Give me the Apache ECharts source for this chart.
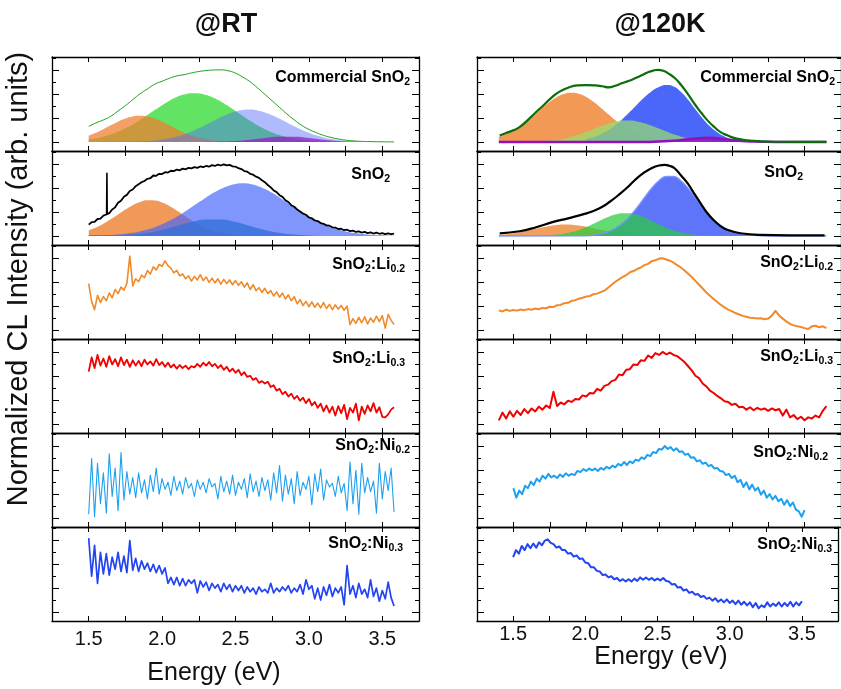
<!DOCTYPE html>
<html>
<head>
<meta charset="UTF-8">
<title>CL spectra @RT / @120K</title>
<script src="https://cdn.jsdelivr.net/npm/echarts@6/dist/echarts.min.js"></script>
</head>
<body style="margin:0;background:#fff">
<div id="main" style="width:841px;height:689px;"></div>
<script>
// ---- energy grids (eV) ----
var eRT = [1.50,1.52,1.54,1.56,1.58,1.60,1.62,1.64,1.66,1.68,
  1.70,1.72,1.74,1.76,1.78,1.80,1.82,1.84,1.86,1.88,
  1.90,1.92,1.94,1.96,1.98,2.00,2.02,2.04,2.06,2.08,
  2.10,2.12,2.14,2.16,2.18,2.20,2.22,2.24,2.26,2.28,
  2.30,2.32,2.34,2.36,2.38,2.40,2.42,2.44,2.46,2.48,
  2.50,2.52,2.54,2.56,2.58,2.60,2.62,2.64,2.66,2.68,
  2.70,2.72,2.74,2.76,2.78,2.80,2.82,2.84,2.86,2.88,
  2.90,2.92,2.94,2.96,2.98,3.00,3.02,3.04,3.06,3.08,
  3.10,3.12,3.14,3.16,3.18,3.20,3.22,3.24,3.26,3.28,
  3.30,3.32,3.34,3.36,3.38,3.40,3.42,3.44,3.46,3.48,
  3.50,3.52,3.54,3.56,3.58];
var eLi = [1.400,1.425,1.450,1.475,1.500,1.525,1.550,1.575,1.600,1.625,
  1.650,1.675,1.700,1.725,1.750,1.775,1.800,1.825,1.850,1.875,
  1.900,1.925,1.950,1.975,2.000,2.025,2.050,2.075,2.100,2.125,
  2.150,2.175,2.200,2.225,2.250,2.275,2.300,2.325,2.350,2.375,
  2.400,2.425,2.450,2.475,2.500,2.525,2.550,2.575,2.600,2.625,
  2.650,2.675,2.700,2.725,2.750,2.775,2.800,2.825,2.850,2.875,
  2.900,2.925,2.950,2.975,3.000,3.025,3.050,3.075,3.100,3.125,
  3.150,3.175,3.200,3.225,3.250,3.275,3.300,3.325,3.350,3.375,
  3.400,3.425,3.450,3.475,3.500,3.525,3.550,3.575,3.600,3.625,
  3.650];
var eNi = [1.50,1.52,1.54,1.56,1.58,1.60,1.62,1.64,1.66,1.68,
  1.70,1.72,1.74,1.76,1.78,1.80,1.82,1.84,1.86,1.88,
  1.90,1.92,1.94,1.96,1.98,2.00,2.02,2.04,2.06,2.08,
  2.10,2.12,2.14,2.16,2.18,2.20,2.22,2.24,2.26,2.28,
  2.30,2.32,2.34,2.36,2.38,2.40,2.42,2.44,2.46,2.48,
  2.50,2.52,2.54,2.56,2.58,2.60,2.62,2.64,2.66,2.68,
  2.70,2.72,2.74,2.76,2.78,2.80,2.82,2.84,2.86,2.88,
  2.90,2.92,2.94,2.96,2.98,3.00,3.02,3.04,3.06,3.08,
  3.10,3.12,3.14,3.16,3.18,3.20,3.22,3.24,3.26,3.28,
  3.30,3.32,3.34,3.36,3.38,3.40,3.42,3.44,3.46,3.48,
  3.50];

// ---- @RT measured spectra ----
var rtSnO2 = [0.95,1.15,1.18,1.42,1.45,1.70,1.80,1.92,2.22,2.40,
  2.78,2.95,3.30,3.45,3.78,3.90,4.18,4.35,4.52,4.62,
  4.80,4.85,5.08,5.05,5.22,5.20,5.36,5.33,5.48,5.45,
  5.58,5.52,5.66,5.60,5.72,5.68,5.78,5.72,5.84,5.78,
  5.88,5.82,5.95,5.88,6.00,5.92,6.02,5.93,5.97,5.85,
  5.82,5.70,5.62,5.45,5.40,5.22,5.15,4.98,4.88,4.68,
  4.52,4.28,4.08,3.82,3.68,3.42,3.28,3.00,2.85,2.58,
  2.45,2.22,2.06,1.88,1.78,1.55,1.48,1.30,1.25,1.08,
  1.02,0.88,0.86,0.72,0.70,0.58,0.60,0.48,0.52,0.40,
  0.45,0.33,0.38,0.28,0.34,0.24,0.30,0.20,0.27,0.18,
  0.24,0.15,0.22,0.14,0.20];
var rtSnO2Spike = [[1.622,1.80],[1.624,5.27],[1.626,1.85]];
var rtLi2 = [3.90,2.40,1.70,2.90,2.30,2.80,2.45,3.10,2.70,3.40,
  3.05,3.60,3.35,3.90,6.20,3.70,4.30,4.05,4.60,4.40,
  5.00,4.70,5.30,5.05,5.50,5.35,5.80,5.40,5.20,4.80,
  5.00,4.55,4.70,4.30,4.55,4.10,4.50,4.20,4.65,4.15,
  4.45,4.00,4.35,3.95,4.30,3.85,4.25,3.90,4.20,3.80,
  4.15,3.75,4.05,3.60,3.95,3.40,3.80,3.30,3.55,3.15,
  3.50,3.05,3.30,2.85,3.20,2.75,3.10,2.60,2.95,2.45,
  2.80,2.20,2.55,2.05,2.40,1.95,2.35,1.90,2.25,1.85,
  2.30,1.80,2.15,1.70,2.10,1.75,2.05,1.65,2.00,0.45,
  0.95,0.55,1.05,0.60,1.10,0.50,1.00,0.65,1.15,0.70,
  1.20,0.15,1.30,0.80,0.45];
var rtLi3 = [4.40,5.60,4.70,5.80,4.90,5.50,4.80,5.70,5.00,5.45,
  4.85,5.60,4.95,5.40,4.80,5.35,4.90,5.30,4.85,5.40,
  5.00,5.25,4.90,5.45,4.95,5.20,4.80,5.15,4.75,5.00,
  4.65,4.95,4.70,4.90,4.60,4.85,4.75,5.05,4.80,5.15,
  4.90,5.20,4.85,5.05,4.70,4.95,4.55,4.80,4.40,4.65,
  4.30,4.55,4.10,4.35,3.95,4.05,3.70,3.85,3.45,3.60,
  3.40,3.55,3.10,3.25,2.80,2.95,2.50,2.70,2.30,2.55,
  2.10,2.35,1.95,2.20,1.75,2.10,1.55,1.85,1.35,1.70,
  1.05,1.55,0.95,1.45,0.70,1.50,0.90,1.60,0.40,1.35,
  0.95,1.70,0.30,1.45,0.85,1.55,1.05,1.75,0.95,1.40,
  0.60,0.55,0.80,1.20,1.40];
var rtNi2 = [0.30,5.00,0.10,4.60,1.20,3.80,0.40,5.40,1.80,4.20,
  0.60,5.50,1.50,3.90,2.00,3.40,1.70,3.80,2.10,3.20,
  1.60,3.60,2.20,4.20,2.00,3.30,2.40,3.00,1.90,3.50,
  2.30,3.10,2.00,3.40,2.50,2.90,1.80,3.20,2.40,3.00,
  2.10,3.30,2.60,2.90,1.60,3.50,2.20,3.10,2.00,3.60,
  1.90,3.00,2.40,3.30,1.70,3.70,2.20,3.10,1.80,3.40,
  2.30,3.20,1.50,3.80,2.10,4.40,1.40,3.60,2.00,3.30,
  1.20,3.90,1.90,3.00,2.40,3.50,1.10,3.70,2.20,4.10,
  1.50,3.20,2.60,2.90,1.80,3.50,2.10,2.90,0.60,4.70,
  1.20,4.00,0.30,4.60,2.10,3.40,2.20,3.10,0.40,4.60,
  1.60,3.90,2.30,4.20,0.50];
var rtNi3 = [6.20,3.00,5.60,2.40,5.00,3.20,4.90,3.10,4.60,3.60,
  5.00,3.40,4.70,3.30,6.00,3.50,4.50,3.40,4.30,3.60,
  4.10,3.40,4.00,3.30,3.90,3.20,3.70,2.40,2.90,2.30,
  2.90,2.20,2.80,2.20,2.70,2.40,2.70,1.60,2.60,2.10,
  2.50,1.80,2.40,2.00,2.30,1.70,2.40,1.90,2.30,1.70,
  2.20,1.80,2.20,1.60,2.10,1.70,2.00,1.50,2.10,1.70,
  1.90,1.60,2.40,1.60,2.00,1.70,2.10,1.80,2.20,1.60,
  2.00,1.70,2.30,1.50,2.70,1.90,2.20,1.10,2.00,1.00,
  2.10,1.40,2.30,1.30,2.00,1.60,2.10,0.60,3.90,1.50,
  2.20,1.20,2.40,1.50,1.90,1.20,2.70,1.30,2.00,0.90,
  1.80,1.10,2.50,1.20,0.50];

// ---- @RT fitted components ----
var rtCommLine = [[1.50,1.3],[1.55,1.6],[1.60,1.85],[1.65,2.15],[1.70,2.6],[1.75,3.05],[1.80,3.55],[1.85,4.05],[1.90,4.45],[1.95,4.85],[2.00,5.1],[2.05,5.35],[2.10,5.55],[2.15,5.65],[2.20,5.8],[2.25,5.92],[2.30,6.0],[2.35,6.05],[2.40,6.06],[2.45,5.98],[2.50,5.78],[2.55,5.45],[2.60,5.05],[2.65,4.55],[2.70,4.0],[2.75,3.45],[2.80,2.9],[2.85,2.35],[2.90,1.85],[2.95,1.4],[3.00,1.05],[3.05,0.78],[3.10,0.55],[3.15,0.38],[3.20,0.25],[3.25,0.15],[3.30,0.09],[3.35,0.05],[3.40,0.03],[3.50,0.01],[3.58,0]];
var rtCommOrange = [[1.50,0.54],[1.55,0.78],[1.60,1.07],[1.65,1.39],[1.70,1.70],[1.75,1.96],[1.80,2.14],[1.85,2.2],[1.90,2.14],[1.95,1.96],[2.00,1.70],[2.05,1.39],[2.10,1.07],[2.15,0.78],[2.20,0.54],[2.25,0.35],[2.30,0.22],[2.35,0.12],[2.40,0.07],[2.50,0.02],[2.60,0]];
var rtCommGreen = [[1.50,0.20],[1.55,0.30],[1.60,0.44],[1.65,0.62],[1.70,0.85],[1.75,1.14],[1.80,1.47],[1.85,1.85],[1.90,2.26],[1.95,2.68],[2.00,3.09],[2.05,3.47],[2.10,3.77],[2.15,3.98],[2.20,4.09],[2.25,4.08],[2.30,3.95],[2.35,3.72],[2.40,3.40],[2.45,3.01],[2.50,2.60],[2.55,2.18],[2.60,1.77],[2.65,1.40],[2.70,1.07],[2.75,0.80],[2.80,0.58],[2.85,0.41],[2.90,0.28],[2.95,0.18],[3.00,0.12],[3.10,0.04],[3.20,0.01]];
var rtCommBlue = [[1.50,0.0],[1.70,0.02],[1.80,0.04],[1.90,0.08],[1.95,0.12],[2.00,0.20],[2.05,0.30],[2.10,0.45],[2.15,0.63],[2.20,0.87],[2.25,1.14],[2.30,1.45],[2.35,1.76],[2.40,2.07],[2.45,2.35],[2.50,2.56],[2.55,2.69],[2.60,2.72],[2.65,2.65],[2.70,2.48],[2.75,2.24],[2.80,1.95],[2.85,1.64],[2.90,1.32],[2.95,1.03],[3.00,0.77],[3.05,0.55],[3.10,0.38],[3.15,0.26],[3.20,0.17],[3.30,0.06],[3.40,0.02]];
var rtCommPurple = [[2.30,0.01],[2.40,0.03],[2.50,0.08],[2.60,0.19],[2.70,0.33],[2.80,0.43],[2.90,0.43],[3.00,0.33],[3.10,0.19],[3.20,0.08],[3.30,0.03],[3.40,0.01]];
var rtSnOrange = [[1.50,0.47],[1.55,0.71],[1.60,1.02],[1.65,1.39],[1.70,1.80],[1.75,2.21],[1.80,2.58],[1.85,2.85],[1.90,2.99],[1.95,2.97],[2.00,2.80],[2.05,2.51],[2.10,2.13],[2.15,1.72],[2.20,1.31],[2.25,0.95],[2.30,0.66],[2.35,0.43],[2.40,0.27],[2.45,0.16],[2.50,0.09],[2.60,0.02]];
var rtSnTeal = [[1.50,0.05],[1.60,0.05],[1.70,0.06],[1.80,0.12],[1.90,0.26],[2.00,0.50],[2.10,0.83],[2.20,1.16],[2.30,1.37],[2.40,1.37],[2.50,1.16],[2.60,0.83],[2.70,0.50],[2.80,0.26],[2.90,0.11],[3.00,0.04],[3.10,0.01]];
var rtSnBlue = [[1.50,0.01],[1.60,0.05],[1.70,0.12],[1.80,0.27],[1.85,0.38],[1.90,0.53],[1.95,0.73],[2.00,0.97],[2.05,1.27],[2.10,1.61],[2.15,1.99],[2.20,2.40],[2.25,2.82],[2.30,3.23],[2.35,3.62],[2.40,3.95],[2.45,4.20],[2.50,4.37],[2.55,4.42],[2.60,4.37],[2.65,4.20],[2.70,3.95],[2.75,3.62],[2.80,3.23],[2.85,2.82],[2.90,2.40],[2.95,1.99],[3.00,1.61],[3.05,1.27],[3.10,0.97],[3.15,0.73],[3.20,0.53],[3.25,0.38],[3.30,0.27],[3.40,0.12],[3.50,0.05],[3.58,0.02]];

// ---- @120K measured spectra ----
var lt120Li2 = [1.64,1.55,1.70,1.60,1.68,1.62,1.72,1.66,1.75,1.70,
  1.80,1.74,1.85,1.82,1.95,1.92,2.08,2.10,2.25,2.28,
  2.45,2.50,2.62,2.70,2.80,2.85,3.00,3.05,3.18,3.30,
  3.55,3.80,4.05,4.25,4.45,4.60,4.85,4.95,5.12,5.25,
  5.45,5.55,5.78,5.85,6.00,6.02,5.92,5.82,5.65,5.45,
  5.25,5.00,4.72,4.45,4.12,3.80,3.48,3.15,2.88,2.60,
  2.35,2.10,1.90,1.70,1.58,1.42,1.30,1.18,1.10,1.02,
  1.00,0.95,0.98,0.90,0.95,1.20,1.60,1.20,0.95,0.70,
  0.50,0.38,0.30,0.25,0.15,0.08,0.30,0.35,0.22,0.30,
  0.15];
var lt120Li3 = [0.30,0.95,0.45,1.05,0.60,1.10,0.75,1.25,0.90,1.30,
  1.05,1.45,1.20,1.55,1.35,2.70,1.50,1.80,1.65,1.95,
  1.85,2.10,2.05,2.40,2.30,2.60,2.55,2.95,2.80,3.20,
  3.30,3.60,3.70,4.15,4.10,4.55,4.60,5.00,4.95,5.35,
  5.30,5.75,5.55,5.95,5.80,6.05,5.85,6.00,5.80,5.70,
  5.45,5.20,4.85,4.50,4.05,3.85,3.40,3.15,2.80,2.60,
  2.35,2.15,1.90,1.85,1.60,1.70,1.40,1.45,1.20,1.40,
  1.15,1.35,1.20,1.30,1.10,1.30,1.15,1.25,0.70,1.20,
  0.55,0.75,0.40,0.60,0.30,0.55,0.45,0.70,0.55,1.10,
  1.50];
var lt120Ni2 = [2.50,1.70,2.30,2.00,2.70,2.50,3.05,2.75,3.30,3.05,
  3.55,3.30,3.70,3.40,3.55,3.35,3.65,3.45,3.75,3.55,
  3.70,3.60,3.95,3.85,4.10,3.95,4.15,4.00,4.15,3.95,
  4.20,4.05,4.30,4.15,4.40,4.25,4.55,4.40,4.70,4.45,
  4.75,4.60,4.90,4.80,5.10,4.95,5.30,5.20,5.55,5.45,
  5.80,5.75,6.05,5.80,5.95,5.65,5.85,5.55,5.60,5.30,
  5.40,5.05,5.10,4.75,4.85,4.55,4.65,4.35,4.45,4.15,
  4.20,3.95,3.90,3.60,3.70,3.35,3.55,3.00,3.20,2.60,
  3.00,2.40,2.80,2.30,2.55,1.95,2.30,1.70,2.00,1.55,
  1.85,1.40,1.60,1.10,1.50,1.00,1.30,0.70,0.55,0.10,
  0.65];
var lt120Ni3 = [4.60,5.20,4.90,5.55,5.20,5.70,5.35,5.75,5.40,5.85,
  5.60,6.00,6.10,5.80,5.70,5.40,5.50,5.20,5.20,4.90,
  4.95,4.65,4.75,4.45,4.50,4.15,4.10,3.75,3.75,3.45,
  3.40,3.10,3.15,2.90,3.00,2.75,2.85,2.60,2.75,2.55,
  2.75,2.55,2.80,2.60,2.90,2.70,2.90,2.70,2.85,2.65,
  2.80,2.65,2.85,2.60,2.55,2.30,2.35,2.05,2.10,1.80,
  1.90,1.60,1.70,1.45,1.50,1.25,1.35,1.10,1.20,0.95,
  1.15,0.85,1.05,0.80,1.05,0.75,0.95,0.65,0.95,0.60,
  0.85,0.55,0.80,0.40,0.75,0.30,0.55,0.40,0.80,0.45,
  0.70,0.50,0.80,0.45,0.75,0.50,0.85,0.45,0.80,0.55,
  0.90];

// ---- @120K fitted components ----
var lt120CommLine = [[1.406,0.54],[1.45,0.75],[1.50,0.98],[1.542,1.24],[1.60,1.85],[1.656,2.52],[1.70,3.0],[1.768,3.79],[1.82,4.25],[1.882,4.59],[1.94,4.75],[1.995,4.78],[2.063,4.76],[2.11,4.68],[2.154,4.59],[2.20,4.72],[2.244,4.93],[2.29,5.12],[2.335,5.35],[2.38,5.6],[2.425,5.86],[2.46,6.0],[2.493,6.06],[2.53,5.98],[2.561,5.78],[2.61,5.35],[2.652,4.78],[2.70,4.0],[2.742,3.23],[2.79,2.45],[2.833,1.81],[2.88,1.25],[2.923,0.82],[2.97,0.55],[3.014,0.34],[3.07,0.2],[3.127,0.11],[3.24,0.03],[3.40,0.01],[3.65,0]];
var lt120CommOrange = [[1.40,0.43],[1.45,0.66],[1.50,0.96],[1.55,1.36],[1.60,1.82],[1.65,2.34],[1.70,2.87],[1.75,3.37],[1.80,3.77],[1.85,4.04],[1.90,4.13],[1.95,4.04],[2.00,3.77],[2.05,3.37],[2.10,2.87],[2.15,2.34],[2.20,1.82],[2.25,1.36],[2.30,0.96],[2.35,0.66],[2.40,0.43],[2.45,0.26],[2.50,0.15],[2.60,0.04],[2.70,0.01]];
var lt120CommGreen = [[1.40,0.02],[1.60,0.05],[1.80,0.18],[1.90,0.43],[2.00,0.83],[2.05,1.07],[2.10,1.31],[2.15,1.53],[2.20,1.70],[2.25,1.79],[2.30,1.80],[2.35,1.72],[2.40,1.57],[2.45,1.36],[2.50,1.12],[2.55,0.87],[2.60,0.65],[2.70,0.31],[2.80,0.12],[2.90,0.04],[3.00,0.01]];
var lt120CommBlue = [[2.00,0.25],[2.05,0.40],[2.10,0.65],[2.15,0.98],[2.20,1.41],[2.25,1.93],[2.30,2.53],[2.35,3.15],[2.40,3.75],[2.45,4.27],[2.50,4.62],[2.55,4.78],[2.60,4.66],[2.65,4.22],[2.70,3.54],[2.75,2.74],[2.80,1.97],[2.85,1.31],[2.90,0.81],[2.95,0.46],[3.00,0.24],[3.05,0.12],[3.10,0.05],[3.20,0.01]];
var lt120CommPurple = [[1.40,0],[2.40,0],[2.50,0.04],[2.60,0.10],[2.70,0.22],[2.80,0.33],[2.85,0.34],[2.90,0.30],[3.00,0.17],[3.10,0.06],[3.20,0.02],[3.30,0],[3.65,0]];
var lt120SnLine = [[1.406,0.22],[1.542,0.39],[1.656,0.73],[1.768,1.16],[1.882,1.5],[1.995,1.87],[2.05,2.1],[2.108,2.43],[2.16,2.85],[2.22,3.42],[2.28,4.05],[2.335,4.70],[2.39,5.25],[2.448,5.69],[2.50,5.92],[2.539,5.97],[2.575,5.88],[2.607,5.69],[2.65,5.1],[2.697,4.42],[2.74,3.6],[2.787,2.72],[2.83,1.95],[2.878,1.30],[2.92,0.85],[2.968,0.51],[3.059,0.22],[3.195,0.08],[3.40,0.05],[3.637,0.05]];
var lt120SnOrange = [[1.40,0.09],[1.50,0.23],[1.60,0.45],[1.70,0.72],[1.80,0.92],[1.86,0.96],[1.90,0.94],[2.00,0.77],[2.10,0.51],[2.20,0.27],[2.30,0.11],[2.40,0.04],[2.50,0.01]];
var lt120SnGreen = [[1.70,0.04],[1.80,0.11],[1.85,0.19],[1.90,0.32],[1.95,0.50],[2.00,0.74],[2.05,1.02],[2.10,1.32],[2.15,1.59],[2.20,1.80],[2.25,1.91],[2.30,1.90],[2.35,1.77],[2.40,1.54],[2.45,1.26],[2.50,0.96],[2.55,0.69],[2.60,0.46],[2.65,0.29],[2.70,0.17],[2.80,0.05],[2.90,0.01]];
var lt120SnBlue = [[1.40,0],[2.00,0.02],[2.10,0.18],[2.15,0.35],[2.20,0.64],[2.25,1.07],[2.30,1.66],[2.35,2.39],[2.40,3.21],[2.45,4.00],[2.50,4.64],[2.55,4.99],[2.60,4.99],[2.65,4.64],[2.70,4.00],[2.75,3.21],[2.80,2.39],[2.85,1.66],[2.90,1.07],[2.95,0.64],[3.00,0.35],[3.05,0.18],[3.10,0.09],[3.20,0.02],[3.30,0],[3.65,0]];

// panel labels: [main, sub, main, sub]
var panelNames = [
  ['Commercial SnO','2'],
  ['SnO','2'],
  ['SnO','2',':Li','0.2'],
  ['SnO','2',':Li','0.3'],
  ['SnO','2',':Ni','0.2'],
  ['SnO','2',':Ni','0.3']
];
var colTitles = ['@RT', '@120K'];
var xTickLabels = [1.5, 2.0, 2.5, 3.0, 3.5];

var FONT = 'Arial, "Liberation Sans", Helvetica, sans-serif';
var COLX = [52, 477], COLW = [367, 368], TOP0 = 57, PH = 94;
var YMIN = -0.765, YMAX = 7.14;

var myChart = echarts.init(document.getElementById('main'), null, {renderer: 'canvas'});

function zip(xs, ys) {
  return xs.map(function (x, i) { return [x, ys[i]]; });
}
function fmtX(v) {
  for (var i = 0; i < xTickLabels.length; i++) {
    if (Math.abs(v - xTickLabels[i]) < 1e-6) return xTickLabels[i].toFixed(1);
  }
  return '';
}

var grids = [], xAxes = [], yAxes = [], series = [];
for (var c = 0; c < 2; c++) {
  for (var r = 0; r < 6; r++) {
    var k = c * 6 + r;
    grids.push({left: COLX[c], top: TOP0 + PH * r, width: COLW[c], height: PH});
    var xb = {
      type: 'value', gridIndex: k, min: 1.25, max: 3.75, interval: 0.25,
      splitLine: {show: false},
      axisLine: {onZero: false, lineStyle: {color: '#000', width: 1.3}},
      axisTick: {inside: true, length: 5, lineStyle: {color: '#000', width: 1}}
    };
    xAxes.push(Object.assign({}, xb, {
      position: 'bottom',
      axisLabel: {show: r === 5, margin: c ? 3 : 8, fontSize: 20, color: '#111', fontFamily: FONT, formatter: fmtX}
    }));
    xAxes.push(Object.assign({}, xb, {position: 'top', axisLabel: {show: false}}));
    ['left', 'right'].forEach(function (pos) {
      yAxes.push({
        type: 'value', gridIndex: k, position: pos, min: YMIN, max: YMAX,
        minInterval: 2, maxInterval: 2, splitLine: {show: false}, axisLabel: {show: false},
        axisLine: {onZero: false, lineStyle: {color: '#000', width: 1.3}},
        axisTick: {inside: true, length: 7, lineStyle: {color: '#000', width: 1}}
      });
      yAxes.push({
        type: 'value', gridIndex: k, position: pos, min: YMIN, max: YMAX,
        minInterval: 1, maxInterval: 1, splitLine: {show: false}, axisLabel: {show: false},
        axisLine: {show: false},
        axisTick: {inside: true, length: 4, lineStyle: {color: '#000', width: 1}}
      });
    });
  }
}

function line(k, data, color, width, smooth) {
  series.push({
    type: 'line', xAxisIndex: 2 * k, yAxisIndex: 4 * k, data: data,
    symbol: 'none', smooth: !!smooth, z: 3,
    lineStyle: {color: color, width: width, join: 'round'}
  });
}
function fill(k, data, color, stroke, sw) {
  series.push({
    type: 'line', xAxisIndex: 2 * k, yAxisIndex: 4 * k, data: data,
    symbol: 'none', smooth: true, z: 2,
    lineStyle: {width: sw || 0, color: stroke || color},
    areaStyle: {color: color, opacity: 1}
  });
}

// @RT column
fill(0, rtCommGreen, 'rgba(60,220,60,0.80)');
fill(0, rtCommOrange, 'rgba(238,128,48,0.75)');
fill(0, rtCommBlue, 'rgba(80,105,250,0.45)');
fill(0, rtCommPurple, 'rgba(150,30,200,0.75)');
line(0, rtCommLine, '#1f9e1f', 1, true);

fill(1, rtSnOrange, 'rgba(238,128,48,0.80)');
fill(1, rtSnTeal, 'rgba(20,140,150,0.80)');
fill(1, rtSnBlue, 'rgba(70,100,250,0.68)');
line(1, zip(eRT, rtSnO2), '#000', 1.8);
line(1, rtSnO2Spike, '#000', 1.6);

line(2, zip(eRT, rtLi2), '#f08a2a', 1.6);
line(3, zip(eRT, rtLi3), '#f20000', 1.8);
line(4, zip(eRT, rtNi2), '#1ea0f0', 1.1);
line(5, zip(eRT, rtNi3), '#2244f2', 1.7);

// @120K column
fill(6, lt120CommOrange, 'rgba(238,135,55,0.85)');
fill(6, lt120CommBlue, 'rgba(60,90,250,0.92)');
fill(6, lt120CommGreen, 'rgba(150,225,110,0.72)');
fill(6, lt120CommPurple, 'rgba(150,20,200,0.85)', '#9010c0', 2.5);
line(6, lt120CommLine, '#0b6e0b', 2.2, true);

fill(7, lt120SnOrange, 'rgba(238,135,55,0.80)');
fill(7, lt120SnBlue, 'rgba(80,105,250,0.92)', 'rgba(120,145,255,0.9)', 1.5);
fill(7, lt120SnGreen, 'rgba(40,205,60,0.72)');
line(7, lt120SnLine, '#000', 2.2, true);

line(8, zip(eLi, lt120Li2), '#f08a2a', 2);
line(9, zip(eLi, lt120Li3), '#f20000', 2);
line(10, zip(eNi, lt120Ni2), '#1ea0f0', 2);
line(11, zip(eNi, lt120Ni3), '#2244f2', 2);

// text
var RICH = {
  m: {fontSize: 16, fontWeight: 'bold', fontFamily: FONT, color: '#111', lineHeight: 20, verticalAlign: 'middle'},
  s: {fontSize: 10.5, fontWeight: 'bold', fontFamily: FONT, color: '#111', lineHeight: 10, verticalAlign: 'bottom'}
};
var labelPos = [
  [[410, 78], [390, 175], [405, 265], [405, 359], [410, 446], [403, 544]],
  [[835, 78], [803, 173], [833, 263], [833, 357], [828, 453], [832, 545]]
];
var graphic = [];
for (var cc = 0; cc < 2; cc++) {
  for (var rr = 0; rr < 6; rr++) {
    var parts = panelNames[rr], txt = '';
    for (var p = 0; p < parts.length; p++) txt += (p % 2 ? '{s|' : '{m|') + parts[p] + '}';
    graphic.push({
      type: 'text', x: labelPos[cc][rr][0], y: labelPos[cc][rr][1], z: 10,
      style: {text: txt, rich: RICH, align: 'right', verticalAlign: 'middle'}
    });
  }
}
graphic.push({type: 'text', x: 226, y: 25, style: {text: colTitles[0], font: 'bold 27px ' + FONT, fill: '#111', align: 'center', verticalAlign: 'middle'}});
graphic.push({type: 'text', x: 660, y: 25, style: {text: colTitles[1], font: 'bold 27px ' + FONT, fill: '#111', align: 'center', verticalAlign: 'middle'}});
graphic.push({type: 'text', x: 214, y: 673, style: {text: 'Energy (eV)', font: '25px ' + FONT, fill: '#111', align: 'center', verticalAlign: 'middle'}});
graphic.push({type: 'text', x: 661, y: 657, style: {text: 'Energy (eV)', font: '25px ' + FONT, fill: '#111', align: 'center', verticalAlign: 'middle'}});
graphic.push({type: 'text', x: 19, y: 279, rotation: Math.PI / 2, style: {text: 'Normalized CL Intensity (arb. units)', font: '29px ' + FONT, fill: '#111', align: 'center', verticalAlign: 'middle'}});

var option = {
  animation: false,
  backgroundColor: '#fff',
  grid: grids,
  xAxis: xAxes,
  yAxis: yAxes,
  series: series,
  graphic: graphic
};
myChart.setOption(option);
</script>
</body>
</html>
